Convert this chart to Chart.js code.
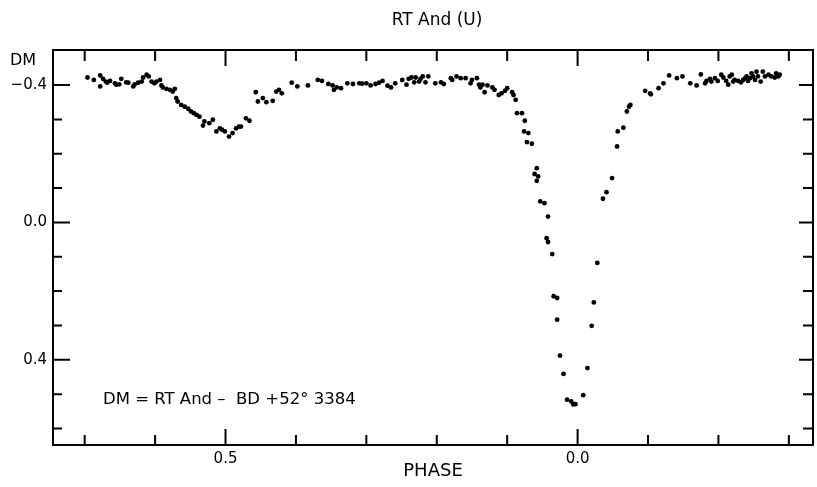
<!DOCTYPE html>
<html>
<head>
<meta charset="utf-8">
<script src="https://cdn.jsdelivr.net/npm/chart.js@4.4.0/dist/chart.umd.min.js"></script>
<style>
  body { margin: 0; background: #fff; }
  canvas { display: block; }
</style>
</head>
<body>
<canvas id="lc" width="817" height="487"></canvas>
<script>
// 位相 (0.5 = 副極小, 1.0 = 主極小)
const phase = [
  0.304, 0.313, 0.322, 0.322, 0.326, 0.330, 0.332, 0.336, 0.343, 0.345,
  0.349, 0.352, 0.359, 0.362, 0.369, 0.371, 0.376, 0.381, 0.383, 0.388,
  0.391, 0.395, 0.399, 0.402, 0.407, 0.409, 0.411, 0.416, 0.421, 0.425,
  0.428, 0.430, 0.432, 0.437, 0.442, 0.447, 0.451, 0.455, 0.459, 0.463,
  0.468, 0.470, 0.477, 0.482, 0.487, 0.492, 0.495, 0.499, 0.505, 0.510,
  0.515, 0.519, 0.522, 0.529, 0.534, 0.543, 0.546, 0.553, 0.558, 0.567,
  0.572, 0.576, 0.580, 0.594, 0.602, 0.617, 0.631, 0.637, 0.646, 0.652,
  0.654, 0.658, 0.664, 0.673, 0.681, 0.690, 0.694, 0.700, 0.706, 0.713,
  0.718, 0.723, 0.730, 0.735, 0.741, 0.751, 0.757, 0.760, 0.764, 0.768,
  0.770, 0.775, 0.777, 0.780, 0.784, 0.788, 0.798, 0.806, 0.810, 0.820,
  0.822, 0.828, 0.834, 0.841, 0.848, 0.850, 0.857, 0.860, 0.862, 0.865,
  0.868, 0.872, 0.879, 0.882, 0.888, 0.892, 0.897, 0.900, 0.907, 0.909,
  0.912, 0.914, 0.921, 0.925, 0.924, 0.930, 0.928, 0.935, 0.942, 0.939,
  0.944, 0.942, 0.947, 0.953, 0.958, 0.956, 0.958, 0.964, 0.966, 0.971,
  0.971, 0.975, 0.980, 0.985, 0.991, 0.997, 0.994, 1.008, 1.014, 1.020,
  1.023, 1.028, 1.036, 1.041, 1.049, 1.056, 1.057, 1.065, 1.070, 1.073,
  1.075, 1.096, 1.103, 1.104, 1.115, 1.122, 1.130, 1.141, 1.149, 1.160,
  1.169, 1.175, 1.181, 1.183, 1.188, 1.190, 1.195, 1.199, 1.204, 1.207,
  1.211, 1.214, 1.216, 1.219, 1.221, 1.223, 1.228, 1.232, 1.235, 1.238,
  1.240, 1.242, 1.245, 1.247, 1.249, 1.252, 1.254, 1.256, 1.260, 1.263,
  1.266, 1.271, 1.275, 1.280, 1.282, 1.285, 1.287
]
// DM = RT And - BD +52 3384
const dm = [
  -0.422, -0.415, -0.428, -0.396, -0.418, -0.410, -0.407, -0.412, -0.405, -0.401,
  -0.402, -0.418, -0.408, -0.407, -0.396, -0.402, -0.407, -0.410, -0.422, -0.430,
  -0.425, -0.410, -0.405, -0.410, -0.415, -0.399, -0.393, -0.389, -0.386, -0.381,
  -0.389, -0.362, -0.352, -0.342, -0.337, -0.331, -0.323, -0.318, -0.313, -0.308,
  -0.282, -0.294, -0.289, -0.299, -0.265, -0.274, -0.270, -0.265, -0.250, -0.260,
  -0.274, -0.279, -0.279, -0.303, -0.296, -0.379, -0.352, -0.362, -0.350, -0.354,
  -0.381, -0.386, -0.376, -0.407, -0.396, -0.399, -0.415, -0.412, -0.403, -0.399,
  -0.386, -0.393, -0.391, -0.405, -0.403, -0.405, -0.404, -0.405, -0.399, -0.403,
  -0.407, -0.412, -0.398, -0.393, -0.405, -0.415, -0.401, -0.418, -0.422, -0.408,
  -0.422, -0.410, -0.418, -0.425, -0.408, -0.425, -0.405, -0.408, -0.403, -0.420,
  -0.415, -0.425, -0.420, -0.420, -0.405, -0.415, -0.420, -0.401, -0.393, -0.401,
  -0.379, -0.399, -0.393, -0.386, -0.371, -0.376, -0.383, -0.391, -0.379, -0.371,
  -0.357, -0.318, -0.318, -0.296, -0.265, -0.260, -0.234, -0.229, -0.158, -0.141,
  -0.134, -0.121, -0.061, -0.056, -0.017, 0.046, 0.057, 0.092, 0.215, 0.220,
  0.283, 0.388, 0.441, 0.516, 0.521, 0.529, 0.530, 0.503, 0.424, 0.301,
  0.233, 0.118, -0.069, -0.088, -0.129, -0.221, -0.265, -0.276, -0.323, -0.337,
  -0.342, -0.383, -0.376, -0.373, -0.391, -0.405, -0.428, -0.420, -0.425, -0.405,
  -0.399, -0.431, -0.405, -0.412, -0.418, -0.410, -0.420, -0.412, -0.430, -0.422,
  -0.412, -0.401, -0.425, -0.430, -0.410, -0.415, -0.412, -0.408, -0.415, -0.420,
  -0.425, -0.412, -0.420, -0.434, -0.425, -0.415, -0.439, -0.425, -0.410, -0.439,
  -0.425, -0.430, -0.425, -0.422, -0.434, -0.425, -0.430
]

// 目盛り
const xTickValues = [0.3, 0.4, 0.5, 0.6, 0.7, 0.8, 0.9, 1.0, 1.1, 1.2, 1.3]
const xMajorValues = [0.5, 1.0]
const xMajorLabels = ['0.5', '0.0']
const yTickValues = [-0.4, -0.3, -0.2, -0.1, 0.0, 0.1, 0.2, 0.3, 0.4, 0.5, 0.6]
const yMajorValues = [-0.4, 0.0, 0.4]
const yMajorLabels = ['\u22120.4', '0.0', '0.4']

const FONT = 'DejaVu Sans'

const majorIndex = (v, list) => list.findIndex((m) => Math.abs(m - v) < 1e-6)
const labelFor = (v, list, labels) => {
  const i = majorIndex(v, list)
  return i < 0 ? '' : labels[i]
}

// 枠と内向きの目盛り、文字
const framePlugin = {
  id: 'frame',
  afterDraw(chart) {
    const { ctx, chartArea: a, scales } = chart
    ctx.save()
    ctx.strokeStyle = '#000'
    ctx.lineWidth = 2
    ctx.strokeRect(a.left, a.top, a.right - a.left, a.bottom - a.top)
    ctx.beginPath()
    xTickValues.forEach((v) => {
      const px = scales.x.getPixelForValue(v)
      const big = majorIndex(v, xMajorValues) >= 0
      ctx.moveTo(px, a.bottom)
      ctx.lineTo(px, a.bottom - (big ? 16 : 10))
      ctx.moveTo(px, a.top)
      ctx.lineTo(px, a.top + (big ? 16 : 11))
    })
    yTickValues.forEach((v) => {
      const py = scales.y.getPixelForValue(v)
      const big = majorIndex(v, yMajorValues) >= 0
      ctx.moveTo(a.left, py)
      ctx.lineTo(a.left + (big ? 17 : 9), py)
      ctx.moveTo(a.right, py)
      ctx.lineTo(a.right - (big ? 14 : 10), py)
    })
    ctx.stroke()

    ctx.fillStyle = '#000'
    ctx.textBaseline = 'middle'
    ctx.textAlign = 'center'
    ctx.font = '17px "' + FONT + '"'
    ctx.fillText('RT And (U)', 437, 21)
    ctx.textAlign = 'left'
    ctx.font = '16px "' + FONT + '"'
    ctx.fillText('DM', 10, 61)
    ctx.font = '16.5px "' + FONT + '"'
    ctx.fillText('DM = RT And \u2013  BD +52\u00b0 3384', 103, 400)
    ctx.restore()
  },
}

const ctx = document.getElementById('lc').getContext('2d')
const chart = new Chart(ctx, {
  type: 'scatter',
  data: {
    datasets: [
      {
        data: phase.map((p, i) => ({ x: p, y: dm[i] })),
        backgroundColor: '#000',
        borderWidth: 0,
        pointRadius: 2.4,
      },
    ],
  },
  options: {
    responsive: false,
    animation: false,
    layout: { padding: { left: 0, right: 2, top: 50, bottom: 0 } },
    plugins: { legend: { display: false }, tooltip: { enabled: false } },
    scales: {
      x: {
        type: 'linear',
        min: 0.255,
        max: 1.3343,
        grid: { display: false, drawTicks: false },
        border: { display: false },
        afterBuildTicks: (s) => {
          s.ticks = xTickValues.map((v) => ({ value: v }))
        },
        afterFit: (s) => {
          s.height = 42
        },
        ticks: {
          padding: 5,
          autoSkip: false,
          maxRotation: 0,
          color: '#000',
          font: { family: FONT, size: 15 },
          callback: (v) => labelFor(v, xMajorValues, xMajorLabels),
        },
        title: {
          display: true,
          text: 'PHASE',
          color: '#000',
          font: { family: FONT, size: 18 },
          padding: { top: 0, bottom: 5 },
        },
      },
      y: {
        type: 'linear',
        reverse: true,
        min: -0.502,
        max: 0.648,
        grid: { display: false, drawTicks: false },
        border: { display: false },
        afterBuildTicks: (s) => {
          s.ticks = yTickValues.map((v) => ({ value: v }))
        },
        afterFit: (s) => {
          s.width = 53
        },
        ticks: {
          padding: 6,
          autoSkip: false,
          color: '#000',
          font: { family: FONT, size: 15 },
          callback: (v) => labelFor(v, yMajorValues, yMajorLabels),
        },
      },
    },
  },
  plugins: [framePlugin],
})
</script>
</body>
</html>
